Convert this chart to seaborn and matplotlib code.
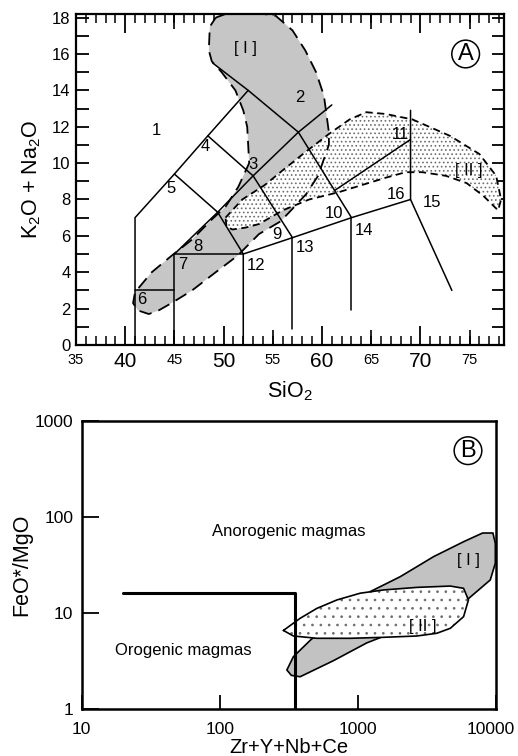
import numpy as np
import matplotlib
matplotlib.use("Agg")
import matplotlib.pyplot as plt
import matplotlib.transforms as mtransforms
import seaborn as sns
from matplotlib.ticker import MultipleLocator, NullFormatter, FixedLocator

# =====================================
# DATA - panel A (TAS diagram)
# =====================================

# field boundary polylines (SiO2, K2O+Na2O)
tas_lines = [
    ([41, 41, 45, 48.4, 52.5], [0, 7, 9.4, 11.5, 14]),
    ([48.9, 52.5, 57.6, 63], [15.5, 14, 11.7, 7]),
    ([45, 49.4, 52], [9.4, 7.3, 5]),
    ([48.4, 53, 57], [11.5, 9.3, 5.9]),
    ([45, 49.4, 53, 57.6, 61], [5, 7.3, 9.3, 11.7, 13.2]),
    ([41, 45], [3, 3]),
    ([45, 45, 52], [0, 5, 5]),
    ([52, 52, 57, 63, 69], [0, 5, 5.9, 7, 8]),
    ([57, 57], [0.9, 5.9]),
    ([63, 63], [1.9, 7]),
    ([61.3, 69], [8.5, 11.3]),
    ([69, 69, 73.2], [12.9, 8, 3]),
]

field_names = ["1", "2", "3", "4", "5", "6", "7", "8",
               "9", "10", "11", "12", "13", "14", "15", "16"]
field_x = [43.2, 57.7, 53.0, 48.1, 44.7, 41.7, 45.8, 47.4,
           55.4, 61.2, 68.0, 53.3, 58.3, 64.3, 71.2, 67.5]
field_y = [11.8, 13.6, 9.9, 10.9, 8.6, 2.5, 4.4, 5.4,
           6.05, 7.25, 11.6, 4.35, 5.35, 6.3, 7.85, 8.3]

# field [I] outline
a1_x = [49.2, 50.2, 52.9, 55.3, 57.0, 58.3, 59.4, 60.2, 60.7, 60.7, 59.6,
        58.4, 57.2, 55.8, 53.6, 51.4, 49.2, 46.8, 44.7, 43.4, 42.4, 41.3,
        40.8, 41.0, 42.7, 44.7, 46.8, 48.8, 50.2, 51.5, 52.6, 52.4, 52.0,
        51.2, 49.8, 48.8, 48.5, 48.6, 49.2]
a1_y = [18.0, 18.2, 18.3, 18.1, 17.3, 16.2, 15.0, 13.7, 11.7, 11.0, 9.3,
        8.3, 7.6, 6.8, 6.1, 4.9, 4.0, 3.0, 2.3, 1.9, 1.7, 1.9,
        2.3, 2.9, 4.0, 4.9, 5.8, 6.9, 7.6, 8.7, 10.0, 12.0, 12.9,
        14.0, 15.0, 15.6, 16.2, 17.5, 18.0]

# field [II] outline
a2_x = [50.2, 51.9, 54.2, 56.0, 58.3, 60.7, 62.8, 64.5, 66.5, 69.2, 73.0,
        76.0, 77.7, 78.2, 77.9, 76.4, 74.7, 72.6, 70.2, 68.5, 66.5, 64.1,
        61.7, 58.7, 56.0, 53.6, 52.2, 50.9, 50.3, 50.2]
a2_y = [7.0, 8.0, 8.8, 9.6, 10.6, 11.6, 12.4, 12.8, 12.7, 12.4, 11.5,
        10.5, 9.3, 8.0, 7.4, 8.2, 8.9, 9.3, 9.5, 9.5, 9.2, 8.8,
        8.4, 8.0, 7.4, 6.65, 6.45, 6.35, 6.5, 7.0]

# =====================================
# DATA - panel B (FeO*/MgO vs Zr+Y+Nb+Ce)
# =====================================

div_x = [20, 350, 350]
div_y = [16, 16, 1]

b1_x = [306, 330, 382, 665, 1160, 2025, 3530, 6160, 9090, 9890, 9890, 9500,
        8000, 5825, 3530, 2025, 1227, 454, 341, 306]
b1_y = [2.56, 2.25, 2.18, 3.2, 4.9, 6.7, 9.95, 13.7, 22.1, 33, 53, 68,
        68, 55.2, 38.6, 23.9, 16.7, 5.25, 3.52, 2.56]

b2_x = [289, 382, 505, 705, 1040, 1535, 2677, 4670, 5825, 6320, 5825, 4670,
        3730, 2677, 1535, 880, 505, 341, 289]
b2_y = [6.6, 8.83, 11.2, 13.7, 16.1, 17.4, 18.5, 19.1, 18.1, 13.7, 9.18, 6.95,
        6.17, 5.78, 5.6, 5.47, 5.47, 5.78, 6.6]

b_xticks = [10, 100, 1000, 10000]
b_yticks = [1, 10, 100, 1000]


# =====================================
# STYLE
# =====================================

sns.set_theme(style="white")
plt.rcParams["font.family"] = ["Liberation Sans", "DejaVu Sans"]
plt.rcParams["mathtext.default"] = "regular"
plt.rcParams["hatch.linewidth"] = 0.7
for key in ["text.color", "axes.labelcolor", "xtick.color", "ytick.color"]:
    plt.rcParams[key] = "black"

fig = plt.figure(figsize=(5.18, 7.56), dpi=100)
axA = fig.add_axes([0.1467, 0.5437, 0.8263, 0.4378])
axB = fig.add_axes([0.1577, 0.0618, 0.7998, 0.3817])

gray = "#c6c6c6"


def line(ax, xs, ys, **kw):
    sns.lineplot(x=xs, y=ys, sort=False, estimator=None, ax=ax,
                 legend=False, **kw)


# =====================================
# PANEL A
# =====================================

axA.fill(a1_x, a1_y, color=gray, lw=0, zorder=1)
axA.fill(a2_x, a2_y, facecolor="white", edgecolor="#6e6e6e", hatch="....",
         lw=0, zorder=2)

for xs, ys in tas_lines:
    line(axA, xs, ys, color="black", lw=1.1, zorder=4)

line(axA, a1_x, a1_y, color="black", lw=1.3, linestyle=(0, (7, 4)), zorder=3)
line(axA, a2_x, a2_y, color="black", lw=1.3, linestyle=(0, (4, 2.5)), zorder=3)

for name, fx, fy in zip(field_names, field_x, field_y):
    axA.text(fx, fy, name, ha="center", va="center", fontsize=12, zorder=5)

axA.text(52.2, 16.3, "[ I ]", ha="center", va="center", fontsize=12, zorder=5)
axA.text(74.9, 9.6, "[ II ]", ha="center", va="center", fontsize=12, zorder=5)
axA.text(74.6, 16.0, "A", ha="center", va="center", fontsize=17, zorder=6,
         bbox=dict(boxstyle="circle,pad=0.12", fc="white", ec="black", lw=1.1))

axA.set_xlim(35, 78.5)
axA.set_ylim(0, 18.2)

axA.xaxis.set_major_locator(FixedLocator([40, 50, 60, 70]))
axA.xaxis.set_minor_locator(MultipleLocator(1))
axA.xaxis.set_minor_formatter(NullFormatter())
axA.yaxis.set_major_locator(MultipleLocator(2))
axA.yaxis.set_minor_locator(MultipleLocator(1))
axA.tick_params(axis="x", which="major", direction="in", length=14, width=1.3,
                top=True, bottom=True, labelsize=15, pad=5)
axA.tick_params(axis="x", which="minor", direction="in", length=6.5, width=1.1,
                top=True, bottom=True)
axA.tick_params(axis="y", which="both", direction="in", length=9, width=1.3,
                left=True, right=True, labelsize=12, pad=4)

# medium ticks with small labels at 35, 45, ...
for side in ["bottom", "top"]:
    sec = axA.secondary_xaxis(side)
    sec.set_xticks([35, 45, 55, 65, 75])
    sec.tick_params(direction="in", length=10.5, width=1.2, labelsize=10.5,
                    pad=6, colors="black")
    sec.spines[side].set_visible(False)
    if side == "top":
        sec.set_xticklabels([])

for s in axA.spines.values():
    s.set_linewidth(1.6)
    s.set_color("black")

axA.set_xlabel("SiO$_2$", fontsize=15.5, labelpad=6)
axA.set_ylabel("K$_2$O + Na$_2$O", fontsize=15.5, labelpad=6)

# =====================================
# PANEL B
# =====================================

axB.set_xscale("log")
axB.set_yscale("log")

axB.fill(b1_x, b1_y, facecolor="#c2c2c2", edgecolor="black", lw=1.2, zorder=1)
axB.fill(b2_x, b2_y, facecolor="white", edgecolor="#6e6e6e", hatch="..",
         lw=0, zorder=2)
line(axB, b2_x, b2_y, color="black", lw=1.2, zorder=3)
line(axB, div_x, div_y, color="black", lw=2.2, zorder=4)

axB.text(314, 70, "Anorogenic magmas", ha="center", va="center", fontsize=12)
axB.text(54.5, 4.07, "Orogenic magmas", ha="center", va="center", fontsize=12)
axB.text(6270, 35, "[ I ]", ha="center", va="center", fontsize=12, zorder=5)
axB.text(2950, 7.2, "[ II ]", ha="center", va="center", fontsize=12, zorder=5)
axB.text(6270, 488, "B", ha="center", va="center", fontsize=17, zorder=6,
         bbox=dict(boxstyle="circle,pad=0.12", fc="white", ec="black", lw=1.1))

axB.set_xlim(10, 10000)
axB.set_ylim(1, 1000)
axB.set_xticks(b_xticks)
axB.set_xticklabels([str(v) for v in b_xticks])
axB.set_yticks(b_yticks)
axB.set_yticklabels([str(v) for v in b_yticks])
axB.minorticks_off()
axB.tick_params(axis="x", direction="in", length=10, width=1.3, labelsize=12.5,
                pad=9, bottom=True)
axB.tick_params(axis="y", direction="in", length=12, width=1.3, labelsize=12.5,
                pad=6, left=True)

# keep the last x label inside the figure
last = axB.get_xticklabels()[-1]
last.set_transform(last.get_transform()
                   + mtransforms.ScaledTranslation(-0.05, 0, fig.dpi_scale_trans))

for s in axB.spines.values():
    s.set_linewidth(1.8)
    s.set_color("black")

axB.set_xlabel("Zr+Y+Nb+Ce", fontsize=14.5, labelpad=1)
axB.set_ylabel("FeO*/MgO", fontsize=15.5, labelpad=2)

fig.savefig("out.png", dpi=100)
